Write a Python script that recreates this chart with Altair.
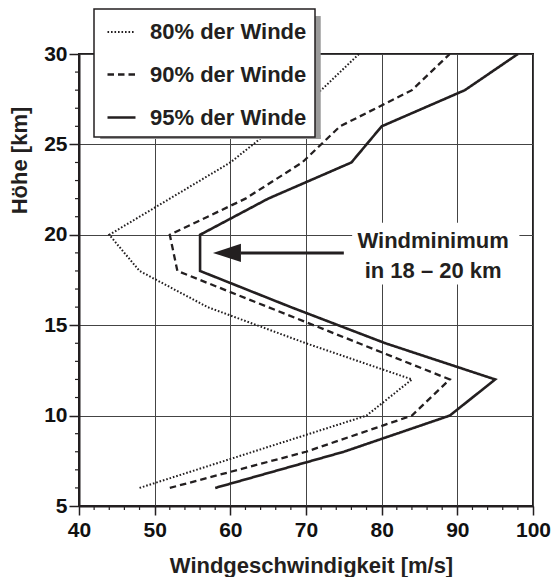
import altair as alt
import pandas as pd

# ---------------- data ----------------
heights = [6, 8, 10, 12, 14, 16, 18, 20, 22, 24, 26, 28, 30]
wind_80 = [48, 63, 78, 84, 70, 57, 48, 44, 52, 60, 66, 72, 77]
wind_90 = [52, 70, 84, 89, 77, 65, 53, 52, 62, 69.5, 74.5, 84, 89]
wind_95 = [58, 75, 89, 95, 80.5, 68, 56, 56, 65, 76, 80, 91, 98]
series_names = ["80% der Winde", "90% der Winde", "95% der Winde"]

x_ticks = [40, 50, 60, 70, 80, 90, 100]
y_ticks = [5, 10, 15, 20, 25, 30]
x_minor = [v for v in range(40, 101, 2) if v % 10]
y_minor = [v for v in range(5, 31) if v % 5]

note_lines = ["Windminimum", "in 18 – 20 km"]
note_x = [86.8, 86.8]
note_y = [19.28, 17.63]
note_box_x = [76.1]
note_box_x2 = [98.2]
note_box_y = [17.25]
note_box_y2 = [20.67]
arrow_from = [75.0]
arrow_to = [61.4]
arrow_h = [19.0]
arrow_head_x = [59.55]

# legend drop shadow strips, in chart coordinates
shadow_right_x = [71.55]
shadow_right_y = [25.3]
shadow_right_y2 = [32.1]
shadow_bottom_y = [25.41]
shadow_bottom_x = [42.8]
shadow_bottom_x2 = [71.95]

# ---------------- styling ----------------
INK = "#231f20"
GRID = "#444444"
SHADOW = "#9a9a9a"
FONT = "Liberation Sans"
W, H = 454, 452

df = pd.DataFrame({
    "v": wind_80 + wind_90 + wind_95,
    "h": heights * 3,
    "series": [s for s in series_names for _ in heights],
})

x_scale = alt.Scale(domain=[40, 100], nice=False, zero=False)
y_scale = alt.Scale(domain=[5, 30], nice=False, zero=False)

X_TITLE = "Windgeschwindigkeit [m/s]"
Y_TITLE = "Höhe [km]"

lines = alt.Chart(df).mark_line(color=INK, strokeCap="butt", strokeJoin="miter", clip=False).encode(
    x=alt.X("v:Q", scale=x_scale, axis=alt.Axis(values=x_ticks, grid=True), title=X_TITLE),
    y=alt.Y("h:Q", scale=y_scale, axis=alt.Axis(values=y_ticks, grid=True), title=Y_TITLE),
    order=alt.Order("h:Q"),
    strokeDash=alt.StrokeDash(
        "series:N",
        scale=alt.Scale(domain=series_names, range=[[1.6, 1.9], [6.5, 4], [1, 0]]),
        legend=alt.Legend(
            title=None, orient="none", legendX=15, legendY=-45, direction="vertical",
            symbolType="stroke", symbolSize=784, symbolStrokeColor=INK, symbolStrokeWidth=2.6,
            labelFont=FONT, labelFontSize=22, labelFontWeight="bold", labelColor=INK,
            labelOffset=13, symbolOffset=4, padding=8, rowPadding=16, labelLimit=400,
            fillColor="white", strokeColor=INK,
        ),
    ),
    strokeWidth=alt.StrokeWidth(
        "series:N", scale=alt.Scale(domain=series_names, range=[2.0, 2.6, 2.8]), legend=None
    ),
)

sr_df = pd.DataFrame({"v": shadow_right_x, "h": shadow_right_y, "h2": shadow_right_y2})
shadow_right = alt.Chart(sr_df).mark_rule(color=SHADOW, strokeWidth=6, strokeCap="butt", clip=False).encode(
    x=alt.X("v:Q", scale=x_scale, title=X_TITLE),
    y=alt.Y("h:Q", scale=y_scale, title=Y_TITLE), y2="h2:Q",
)
sb_df = pd.DataFrame({"v": shadow_bottom_x, "v2": shadow_bottom_x2, "h": shadow_bottom_y})
shadow_bottom = alt.Chart(sb_df).mark_rule(color=SHADOW, strokeWidth=4, strokeCap="butt", clip=False).encode(
    x=alt.X("v:Q", scale=x_scale, title=X_TITLE), x2="v2:Q",
    y=alt.Y("h:Q", scale=y_scale, title=Y_TITLE),
)

box_df = pd.DataFrame({"v": note_box_x, "v2": note_box_x2, "h": note_box_y, "h2": note_box_y2})
note_box = alt.Chart(box_df).mark_rect(fill="white", clip=False).encode(
    x=alt.X("v:Q", scale=x_scale, title=X_TITLE), x2="v2:Q",
    y=alt.Y("h:Q", scale=y_scale, title=Y_TITLE), y2="h2:Q",
)

xminor = alt.Chart(pd.DataFrame({"v": x_minor})).mark_rule(color=INK, strokeWidth=1.2, clip=False).encode(
    x=alt.X("v:Q", scale=x_scale, title=X_TITLE), y=alt.value(H), y2=alt.value(H + 4)
)
yminor = alt.Chart(pd.DataFrame({"h": y_minor})).mark_rule(color=INK, strokeWidth=1.2, clip=False).encode(
    y=alt.Y("h:Q", scale=y_scale, title=Y_TITLE), x=alt.value(-4), x2=alt.value(0)
)

arrow_df = pd.DataFrame({"v": arrow_from, "v2": arrow_to, "h": arrow_h})
arrow_line = alt.Chart(arrow_df).mark_rule(color=INK, strokeWidth=3, clip=False).encode(
    x=alt.X("v:Q", scale=x_scale, title=X_TITLE), x2="v2:Q",
    y=alt.Y("h:Q", scale=y_scale, title=Y_TITLE),
)
head_df = pd.DataFrame({"v": arrow_head_x, "h": arrow_h})
arrow_head = alt.Chart(head_df).mark_point(
    shape="M -1 0 L 1 -0.65 L 1 0.65 Z", filled=True, size=784, color=INK, opacity=1,
    strokeWidth=0, clip=False,
).encode(
    x=alt.X("v:Q", scale=x_scale, title=X_TITLE),
    y=alt.Y("h:Q", scale=y_scale, title=Y_TITLE),
)

note_df = pd.DataFrame({"v": note_x, "h": note_y, "t": note_lines})
note_text = alt.Chart(note_df).mark_text(
    font=FONT, fontSize=22, fontWeight="bold", color=INK, align="center", baseline="alphabetic",
    clip=False,
).encode(
    x=alt.X("v:Q", scale=x_scale, title=X_TITLE),
    y=alt.Y("h:Q", scale=y_scale, title=Y_TITLE),
    text="t:N",
)

chart = alt.layer(
    lines, shadow_right, shadow_bottom, note_box, xminor, yminor, arrow_line, arrow_head, note_text
).properties(
    width=W, height=H,
    autosize="none",
    padding={"left": 79, "top": 54, "right": 21, "bottom": 71},
    background="white",
).configure_view(
    stroke=INK, strokeWidth=2
).configure_legend(
    strokeWidth=1.5, cornerRadius=0
).configure_axis(
    gridColor=GRID, gridWidth=1, tickColor=INK, tickWidth=1.5,
    domainColor=INK, domainWidth=2,
    labelFont=FONT, labelFontSize=21, labelFontWeight="bold", labelColor="#111111",
    labelFlush=False, labelOverlap=False,
    titleFont=FONT, titleFontSize=22, titleFontWeight="bold", titleColor=INK,
).configure_axisX(
    tickSize=9, labelPadding=4,
    titleX=232, titleY=66, titleBaseline="alphabetic", titleAlign="center",
).configure_axisY(
    tickSize=10, labelPadding=2,
    titleX=-60, titleY=106, titleAngle=270, titleBaseline="middle", titleAlign="center",
)

chart.save("out.html", embed_options={"renderer": "svg", "actions": False})
